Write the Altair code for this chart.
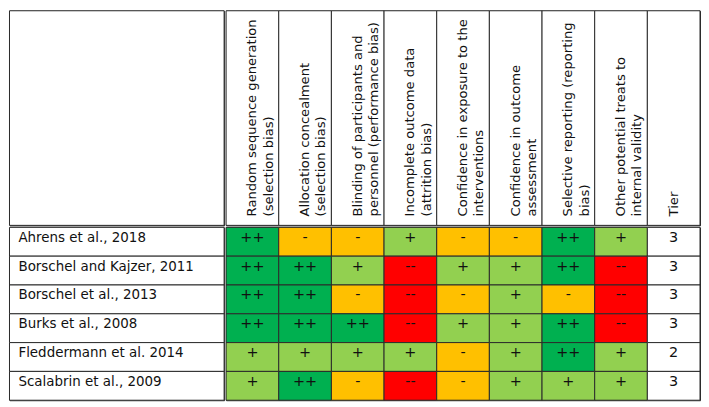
import altair as alt
import pandas as pd

studies = ["Ahrens et al., 2018", "Borschel and Kajzer, 2011", "Borschel et al., 2013",
           "Burks et al., 2008", "Fleddermann et al. 2014", "Scalabrin et al., 2009"]

col_keys = ["c1", "c2", "c3", "c4", "c5", "c6", "c7", "c8", "tier"]
headers = [
    ["Random sequence generation", "(selection bias)"],
    ["Allocation concealment", "(selection bias)"],
    ["Blinding of participants and", "personnel (performance bias)"],
    ["Incomplete outcome data", "(attrition bias)"],
    ["Confidence in exposure to the", "interventions"],
    ["Confidence in outcome", "assessment"],
    ["Selective reporting (reporting", "bias)"],
    ["Other potential treats to", "internal validity"],
    ["Tier", ""],
]

ratings = [
    ["++", "-", "-", "+", "-", "-", "++", "+", "3"],
    ["++", "++", "+", "--", "+", "+", "++", "--", "3"],
    ["++", "++", "-", "--", "-", "+", "-", "--", "3"],
    ["++", "++", "++", "--", "+", "+", "++", "--", "3"],
    ["+", "+", "+", "+", "-", "+", "++", "+", "2"],
    ["+", "++", "-", "--", "-", "+", "+", "+", "3"],
]

levels = ["++", "+", "-", "--", "tier"]
level_colors = ["#00B050", "#92D050", "#FFC000", "#FF0000", "#FFFFFF"]

FONT = "DejaVu Sans"
LINE = "#2a2a2a"
TXT = "#111111"
LEFT_W, RIGHT_W = 216, 477
HEAD_H, BODY_H = 216, 174

rows = []
for s, rr in zip(studies, ratings):
    for k, v in zip(col_keys, rr):
        rows.append({"study": s, "col": k, "val": v,
                     "level": "tier" if k == "tier" else v})
cells = pd.DataFrame(rows)
head = pd.DataFrame({"col": col_keys, "lines": headers})
names = pd.DataFrame({"study": studies})

xs = alt.X("col:N", sort=col_keys, axis=None,
           scale=alt.Scale(paddingInner=0, paddingOuter=0))
ys = alt.Y("study:N", sort=studies, axis=None,
           scale=alt.Scale(paddingInner=0, paddingOuter=0))

# top-left empty header cell
tl = alt.Chart(pd.DataFrame({"t": [""]})).mark_rect(
    fill="white", stroke=LINE, strokeWidth=1
).encode(x=alt.value(0), x2=alt.value(LEFT_W), y=alt.value(0), y2=alt.value(HEAD_H)
).properties(width=LEFT_W, height=HEAD_H)

# header with rotated titles
hbase = alt.Chart(head).encode(x=xs)
hrect = hbase.mark_rect(fill="white", stroke=LINE, strokeWidth=1).encode(
    y=alt.value(0), y2=alt.value(HEAD_H))
htext = hbase.mark_text(angle=270, align="left", baseline="middle", font=FONT,
                        fontSize=13.2, lineHeight=16.5, color=TXT).encode(
    y=alt.value(HEAD_H - 9), text="lines")
tr = alt.layer(hrect, htext).properties(width=RIGHT_W, height=HEAD_H)

# study names
nbase = alt.Chart(names).encode(y=ys)
nrect = nbase.mark_rect(fill="white", stroke=LINE, strokeWidth=1).encode(
    x=alt.value(0), x2=alt.value(LEFT_W))
ntext = nbase.mark_text(align="left", baseline="middle", dy=-4, font=FONT,
                        fontSize=13.5, color=TXT).encode(
    x=alt.value(9), text="study:N")
bl = alt.layer(nrect, ntext).properties(width=LEFT_W, height=BODY_H)

# rating cells
cbase = alt.Chart(cells).encode(x=xs, y=ys)
crect = cbase.mark_rect(stroke=LINE, strokeWidth=1).encode(
    color=alt.Color("level:N", scale=alt.Scale(domain=levels, range=level_colors),
                    legend=None))
ctext = cbase.mark_text(baseline="middle", dy=-4, font=FONT, fontSize=14.5,
                        color=TXT).encode(text="val:N")
br = alt.layer(crect, ctext).properties(width=RIGHT_W, height=BODY_H)

chart = alt.vconcat(
    alt.hconcat(tl, tr, spacing=0),
    alt.hconcat(bl, br, spacing=0),
    spacing=0,
).properties(
    padding={"left": 0.5, "top": 0.5, "right": 0, "bottom": 0},
    background="white",
).configure_view(
    stroke=LINE, strokeWidth=1
).configure_concat(spacing=0)

chart.save("out.html", embed_options={"renderer": "svg", "actions": False})
